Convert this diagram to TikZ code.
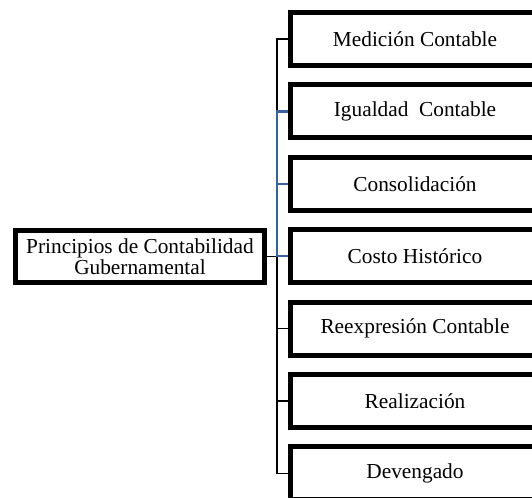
\documentclass[tikz,border=0pt]{standalone}
\usepackage{fontspec}
\setmainfont{Liberation Serif}
\usetikzlibrary{positioning}
\definecolor{linkblue}{RGB}{58,98,158}

\begin{document}
\begin{tikzpicture}[
    every node/.style={font=\fontsize{16}{16}\selectfont},
    principio/.style={draw,line width=3.75pt,minimum width=186.75pt,minimum height=39.75pt,inner sep=2pt},
    raiz/.style={draw,line width=3.6pt,minimum width=186.75pt,minimum height=39pt,align=center,inner sep=2pt},
    link/.style={line width=1.2pt},
    bluelink/.style={line width=1.9pt,draw=linkblue},
    node distance=10.8pt
  ]
  \useasboundingbox (0,0) rectangle (399pt,-372.75pt);

  % root box
  \node[raiz] (root) at (105pt,-192.4pt) {Principios de Contabilidad\\Gubernamental};

  % principle boxes
  \node[principio] (m1) at (311.25pt,-29.25pt) {Medición Contable};
  \node[principio,below=of m1] (m2) {Igualdad\ \ Contable};
  \node[principio,below=of m2] (m3) {Consolidación};
  \node[principio,below=of m3] (m4) {Costo Histórico};
  \node[principio,below=of m4] (m5) {Reexpresión Contable};
  \node[principio,below=of m5] (m6) {Realización};
  \node[principio,below=of m6] (m7) {Devengado};

  \coordinate (trunk) at (207.75pt,0);

  % black connectors
  \draw[link] (root.east) -- (root.east -| trunk);
  \draw[link] (m1.west) -- (m1.west -| trunk) -- (m7.west -| trunk) -- (m7.west);
  \draw[link] (m5.west -| trunk) -- (m5.west);
  \draw[link] (m6.west -| trunk) -- (m6.west);

  % blue connectors
  \draw[bluelink] (m2.west) -- (m2.west -| trunk) -- (m4.west -| trunk) -- (m4.west);
  \draw[bluelink] (m3.west -| trunk) -- (m3.west);
\end{tikzpicture}
\end{document}
